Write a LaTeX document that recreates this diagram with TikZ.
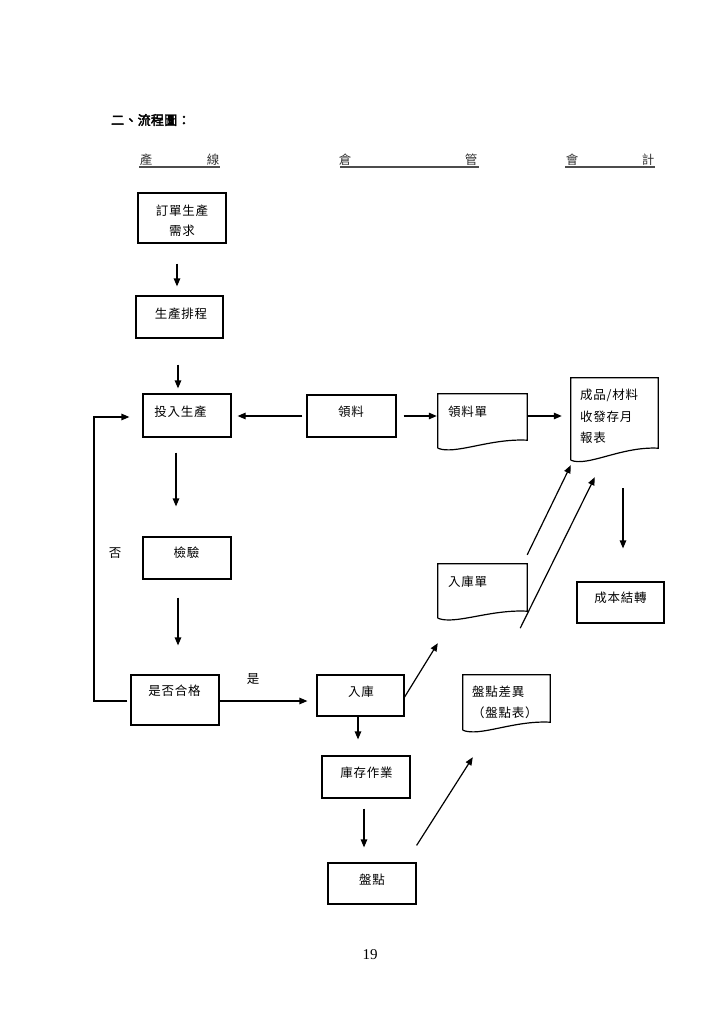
\documentclass[tikz,border=0pt]{standalone}
\usepackage{fontspec}
\usetikzlibrary{arrows.meta,calc}
\newfontfamily\cjk[LetterSpace=6]{Noto Sans CJK TC}
\newfontfamily\cjkb[FakeBold=3,LetterSpace=2]{Noto Sans CJK TC}
\newfontfamily\tms{Liberation Serif}
\tikzset{
  boxline/.style={draw=black, line width=1.2pt},
  box/.style={boxline, rectangle, inner sep=0pt},
  docn/.style={rectangle, inner sep=0pt, draw=none},
  txt/.style={inner sep=0pt, font=\cjk\fontsize{12.5}{20}\selectfont},
  arr/.style={line width=1.2pt, -{Triangle[length=8pt,width=6.5pt]}},
  hdr/.style={inner sep=0pt, font=\cjk\fontsize{12.5}{20}\selectfont, text=black!80},
  uline/.style={line width=1.8pt, draw=black!70},
}
\newcommand\docoutline[2]{%
  \draw[boxline] (#1.south west) -- (#1.north west) -- (#1.north east) -- ([yshift=#2]#1.south east)
    .. controls ($(#1.south west)!0.58!(#1.south east)+(0,#2+2pt)$) and ($(#1.south west)!0.19!(#1.south east)+(0,-7pt)$) .. (#1.south west);}
\begin{document}
\begin{tikzpicture}[x=1pt,y=-1pt]
\useasboundingbox (0,0) rectangle (724,1024);
\fill[white] (0,0) rectangle (724,1024);

% title and headers
\node[inner sep=0pt, anchor=west, font=\cjkb\fontsize{13}{20}\selectfont] (title) at (111,120) {二、流程圖：};
\draw[uline] (139,167) -- (220,167);
\draw[uline] (340,167) -- (479,167);
\draw[uline] (565,167) -- (654.5,167);
\node[hdr] (h1) at (146,160) {產};
\node[hdr] (h2) at (213,160) {線};
\node[hdr] (h3) at (345,160) {倉};
\node[hdr] (h4) at (471,160) {管};
\node[hdr] (h5) at (572,160) {會};
\node[hdr] (h6) at (648,160) {計};

% boxes
\node[box, minimum width=88pt, minimum height=50pt] (req) at (182,218) {};
\node[box, minimum width=87pt, minimum height=42pt] (sched) at (179.5,317) {};
\node[box, minimum width=88pt, minimum height=43pt] (input) at (187,415.5) {};
\node[box, minimum width=89pt, minimum height=42pt] (ll) at (351.5,416) {};
\node[box, minimum width=88pt, minimum height=42pt] (inspect) at (187,558) {};
\node[box, minimum width=88pt, minimum height=50pt] (ok) at (175,700) {};
\node[box, minimum width=87pt, minimum height=41pt] (in) at (360.5,695.5) {};
\node[box, minimum width=87pt, minimum height=41pt] (cost) at (620.5,602.5) {};
\node[box, minimum width=88pt, minimum height=42pt] (stock) at (366,777) {};
\node[box, minimum width=88pt, minimum height=41pt] (count) at (372,883.5) {};

% documents
\node[docn, minimum width=89pt, minimum height=54pt] (lld) at (482.5,421) {};
\node[docn, minimum width=87pt, minimum height=82pt] (report) at (614.5,419) {};
\node[docn, minimum width=89pt, minimum height=54pt] (ind) at (482.5,591) {};
\node[docn, minimum width=87pt, minimum height=55pt] (diff) at (506.5,702.5) {};
\docoutline{lld}{8pt}
\docoutline{report}{12pt}
\docoutline{ind}{7pt}
\docoutline{diff}{8pt}

% texts
\node[txt, align=center] (treq) at (182,221) {訂單生產\\需求};
\node[txt] (tsched) at (181,314) {生產排程};
\node[txt] (tinput) at (180.5,412) {投入生產};
\node[txt] (tll) at (351,412) {領料};
\node[txt, anchor=west] (tlld) at (448,412) {領料單};
\node[txt, anchor=west, align=left, font=\cjk\fontsize{12.5}{21.5}\selectfont] (treport) at (580,416.5) {成品/材料\\收發存月\\報表};
\node[txt] (tinspect) at (186.5,553) {檢驗};
\node[txt] (tok) at (174.5,691) {是否合格};
\node[txt] (tin) at (361,692) {入庫};
\node[txt, anchor=west] (tind) at (448,582) {入庫單};
\node[txt] (tcost) at (620.5,598) {成本結轉};
\node[txt, anchor=west, align=left, font=\cjk\fontsize{12.5}{21}\selectfont] (tdiff) at (472,702.5) {盤點差異\\（盤點表）};
\node[txt] (tstock) at (366.5,773) {庫存作業};
\node[txt] (tcount) at (372,880) {盤點};
\node[txt] (yes) at (253,679) {是};
\node[txt] (no) at (115,553) {否};
\node[inner sep=0pt, font=\tms\fontsize{15}{18}\selectfont] (page) at (370,955) {19};

% connectors
\draw[arr, shorten <=20pt, shorten >=9pt] ([xshift=-5pt]req.south) -- ([xshift=-2.5pt]sched.north);
\draw[arr, shorten <=26pt, shorten >=5pt] ([xshift=-1.5pt]sched.south) -- ([xshift=-9pt]input.north);
\draw[arr, shorten <=15pt, shorten >=30pt] ([xshift=-11pt]input.south) -- ([xshift=-11pt]inspect.north);
\draw[arr, shorten <=18pt, shorten >=29pt] ([xshift=-9pt]inspect.south) -- ([xshift=3pt]ok.north);
\coordinate (oke) at ([yshift=-1pt]ok.east);
\draw[arr, shorten >=9pt] (oke) -- (oke -| in.west);
\coordinate (fb) at (94,0);
\coordinate (okw) at ([yshift=-1pt]ok.west);
\coordinate (inw) at ([yshift=-1.5pt]input.west);
\draw[arr, shorten <=3pt, shorten >=13pt] (okw) -- (okw -| fb) |- (inw);
\draw[arr, shorten <=4pt, shorten >=6pt] (ll.west) -- (ll.west -| input.east);
\draw[arr, shorten <=7pt, shorten >=1pt] (ll.east) -- (ll.east -| lld.west);
\draw[arr, shorten <=1pt, shorten >=9pt] (ll.east -| lld.east) -- (ll.east -| report.west);
\draw[arr] ([yshift=9pt]ind.north east) -- ([yshift=-5pt]report.south west);
\draw[arr] ([xshift=-7pt,yshift=-10pt]ind.south east) -- ([xshift=24pt,yshift=-17pt]report.south west);
\draw[arr, shorten <=28pt, shorten >=33pt] ([xshift=8.5pt]report.south) -- ([xshift=2.5pt]cost.north);
\draw[arr] ([yshift=-1.5pt]in.east) -- ([yshift=-25pt]ind.south west);
\draw[arr, shorten >=16pt] ([xshift=-2.5pt]in.south) -- ([xshift=-8pt]stock.north);
\draw[arr, shorten <=10pt, shorten >=15pt] ([xshift=-2pt]stock.south) -- ([xshift=-8pt]count.north);
\draw[arr] ([yshift=17pt]count.north east) -- ([xshift=10pt,yshift=-27pt]diff.south west);
\end{tikzpicture}
\end{document}
